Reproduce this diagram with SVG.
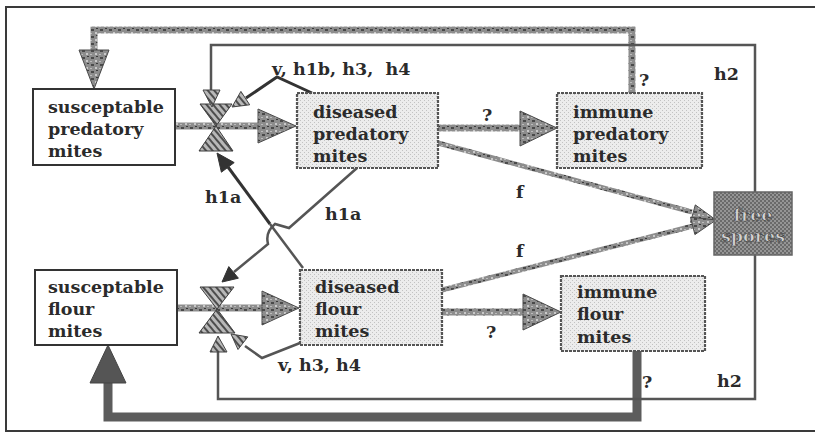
<svg xmlns="http://www.w3.org/2000/svg" width="815" height="442" viewBox="0 0 815 442">
<style>
  text{font-family:"DejaVu Serif","Liberation Serif",serif;font-weight:bold;font-size:17.5px;fill:#2b2b2b}
  .lbl{white-space:pre}
  .plain{fill:#fff;stroke:#333;stroke-width:2}
  .shaded{fill:url(#dots);stroke:#555;stroke-width:2.2;stroke-dasharray:3 1}
  .thin{fill:none;stroke:#555;stroke-width:2.5}
  .dark{fill:none;stroke:#333;stroke-width:3}
  .flow{fill:none;stroke:url(#mottle);stroke-width:7}
  .fline{fill:none;stroke:url(#mottle);stroke-width:5}
  .head{fill:url(#mottle);stroke:#4a4a4a;stroke-width:1}
  .valve{fill:url(#hatch);stroke:#3d3d3d;stroke-width:1}
  .tip{fill:#333;stroke:#333;stroke-width:1}
  .tipg{fill:url(#hatch);stroke:#444;stroke-width:1}
  .spore{fill:#d2d2d2;stroke:#3a3a3a;stroke-width:0.6}
</style>
<defs>
  <pattern id="dots" width="4" height="4" patternUnits="userSpaceOnUse">
    <rect width="4" height="4" fill="#ececec"/>
    <rect x="0" y="0" width="1" height="1" fill="#c2c2c2"/>
    <rect x="2" y="2" width="1" height="1" fill="#c2c2c2"/>
  </pattern>
  <pattern id="mottle" width="9" height="7" patternUnits="userSpaceOnUse">
    <rect width="9" height="7" fill="#8d8d8d"/>
    <rect x="1" y="1" width="3" height="2" fill="#4a4a4a"/>
    <rect x="5" y="4" width="2" height="2" fill="#c9c9c9"/>
    <rect x="6" y="0" width="2" height="1" fill="#3c3c3c"/>
    <rect x="0" y="5" width="2" height="1" fill="#bcbcbc"/>
  </pattern>
  <pattern id="hatch" width="5" height="5" patternUnits="userSpaceOnUse" patternTransform="rotate(-40)">
    <rect width="5" height="5" fill="#b8b8b8"/>
    <rect width="2" height="5" fill="#4d4d4d"/>
  </pattern>
  <pattern id="spore" width="4" height="4" patternUnits="userSpaceOnUse">
    <rect width="4" height="4" fill="#959595"/>
    <rect width="2" height="2" fill="#6a6a6a"/>
    <rect x="2" y="2" width="2" height="2" fill="#6a6a6a"/>
  </pattern>
</defs>

<!-- outer frame -->
<g id="frame" fill="none" stroke="#3a3a3a" stroke-width="2">
  <path d="M5,7 H815 M5,431 H815 M6,7 V431"/>
</g>

<g id="connectors">
  <!-- immune predatory mites back to susceptable predatory mites -->
  <path class="flow" d="M632,93 V30 H94 V52" stroke-width="7"/>
  <polygon class="head" points="79,50 109,50 94,89"/>
  <!-- immune flour mites back to susceptable flour mites -->
  <path fill="none" stroke="#5c5c5c" stroke-width="9" d="M637,351 V417 H108 V383"/>
  <polygon fill="#555" stroke="#444" points="90,383 126,383 108,345"/>

  <!-- h2: free spores to both valves -->
  <path class="thin" d="M755,192 V45 H211 V92"/>
  <path class="thin" d="M755,255 V399 H218 V352"/>

  <!-- v, h1b, h3, h4 -->
  <path class="dark" d="M312,93 L277,77 L246,98"/>
  <!-- v, h3, h4 -->
  <path class="thin" d="M300,343 L262,358 L245,346"/>

  <!-- h1a: diseased flour mites to predatory valve -->
  <path class="thin" d="M303,268 L270,224"/>
  <path class="dark" d="M270,224 L228,167"/>
  <!-- h1a: diseased predatory mites to flour valve -->
  <path class="thin" d="M357,168 L289,228 L275,224 Q265,232 268,244 L234,272"/>

  <!-- f: diseased mites to free spores -->
  <path class="fline" d="M438,143 L692,212"/>
  <path class="fline" d="M442,290 L693,226"/>
  <polygon class="head" points="716,220 690.5,222.3 695.3,204.9"/>
  <polygon class="head" points="716,220 694.9,234.6 690.5,217.2"/>

  <!-- infection and recovery flows -->
  <path class="flow" d="M175,126 H260"/>
  <polygon class="head" points="258,109 258,143 296,126"/>
  <path class="flow" d="M177,308 H263"/>
  <polygon class="head" points="262,291 262,325 299,308"/>
  <path class="flow" d="M438,128 H522"/>
  <polygon class="head" points="520,111 520,146 557,128"/>
  <path class="flow" d="M442,312 H525"/>
  <polygon class="head" points="523,294 523,330 561,312"/>

  <!-- valves -->
  <polygon class="valve" points="200,104 232,104 216,126"/>
  <polygon class="valve" points="199,151 233,151 216,126"/>
  <polygon class="valve" points="200,287 234,287 217,309"/>
  <polygon class="valve" points="199,333 235,333 217,309"/>

  <!-- arrowheads onto the valves -->
  <polygon class="tipg" points="203,90 220,90 212,107"/>
  <polygon class="tipg" points="210,352 227,352 218,336"/>
  <polygon class="tipg" points="232,107 249.7,104.8 240.9,91.4"/>
  <polygon class="tipg" points="231,334 247.8,336.9 238,349.5"/>
  <polygon class="tip" points="217,153 234.2,162.6 221.4,172.2"/>
  <polygon class="tip" points="222,282 238.4,278.2 228.8,266.6"/>

  <!-- connector labels -->
  <text class="lbl" x="272" y="75">v, h1b, h3,  h4</text>
  <text x="482" y="121">?</text>
  <text x="639" y="86">?</text>
  <text x="714" y="80">h2</text>
  <text x="205" y="203">h1a</text>
  <text x="325" y="220">h1a</text>
  <text x="516" y="198">f</text>
  <text x="516" y="257">f</text>
  <text x="486" y="338">?</text>
  <text class="lbl" x="278" y="371">v, h3, h4</text>
  <text x="642" y="388">?</text>
  <text x="717" y="387">h2</text>
</g>

<g id="susceptable-predatory">
  <rect class="plain" x="33" y="89" width="142" height="76"/>
  <text x="48" y="113">susceptable</text>
  <text x="48" y="135">predatory</text>
  <text x="48" y="157">mites</text>
</g>
<g id="diseased-predatory">
  <rect class="shaded" x="297" y="93" width="141" height="75"/>
  <text x="313" y="118">diseased</text>
  <text x="313" y="140">predatory</text>
  <text x="313" y="162">mites</text>
</g>
<g id="immune-predatory">
  <rect class="shaded" x="557" y="93" width="145" height="75"/>
  <text x="573" y="118">immune</text>
  <text x="573" y="140">predatory</text>
  <text x="573" y="162">mites</text>
</g>
<g id="susceptable-flour">
  <rect class="plain" x="35" y="270" width="142" height="75"/>
  <text x="48" y="293">susceptable</text>
  <text x="48" y="315">flour</text>
  <text x="48" y="337">mites</text>
</g>
<g id="diseased-flour">
  <rect class="shaded" x="300" y="270" width="142" height="75"/>
  <text x="315" y="293">diseased</text>
  <text x="315" y="315">flour</text>
  <text x="315" y="337">mites</text>
</g>
<g id="immune-flour">
  <rect class="shaded" x="561" y="276" width="144" height="75"/>
  <text x="577" y="298">immune</text>
  <text x="577" y="320">flour</text>
  <text x="577" y="343">mites</text>
</g>
<g id="free-spores">
  <rect x="714" y="192" width="78" height="63" fill="url(#spore)" stroke="#666" stroke-width="1.5"/>
  <text class="spore" x="753" y="221" text-anchor="middle">free</text>
  <text class="spore" x="753" y="242" text-anchor="middle">spores</text>
</g>
</svg>
